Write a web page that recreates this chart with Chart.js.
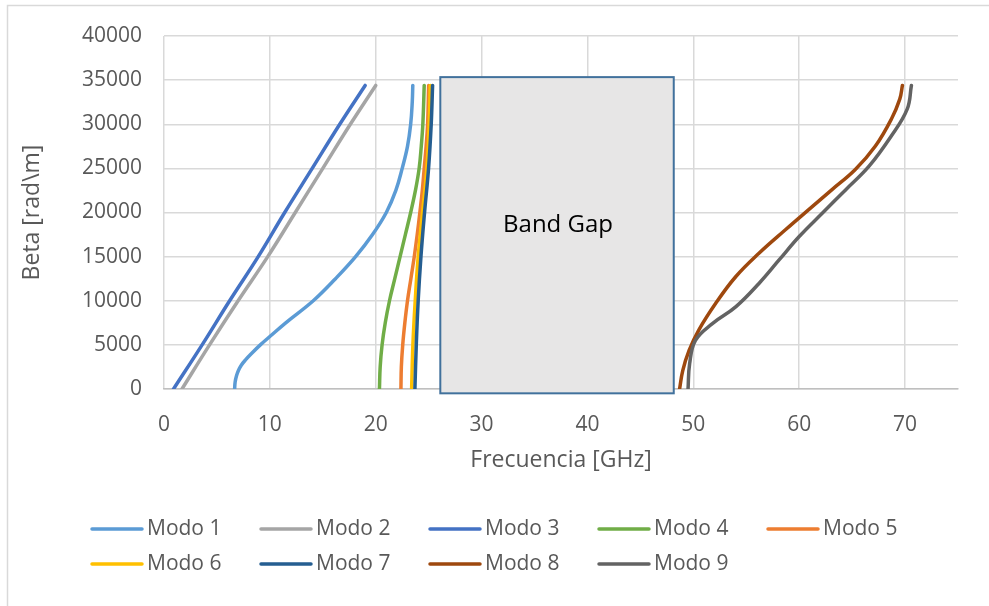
<!DOCTYPE html>
<html>
<head>
<meta charset="utf-8">
<script src="https://cdn.jsdelivr.net/npm/chart.js@4.4.1/dist/chart.umd.min.js"></script>
<style>
  html, body { margin: 0; padding: 0; background: #ffffff; }
  #wrap { position: relative; width: 989px; height: 606px; }
  canvas { display: block; }
</style>
</head>
<body>
<div id="wrap"><canvas id="c" width="989" height="606"></canvas></div>
<script>
// ---- Data (frequency in GHz, beta in rad/m) ----
const seriesNames = ['Modo 1','Modo 2','Modo 3','Modo 4','Modo 5','Modo 6','Modo 7','Modo 8','Modo 9'];
const seriesColors = ['#5B9BD5','#A5A5A5','#4472C4','#70AD47','#ED7D31','#FFC000','#255E91','#9E480E','#636363'];

const modo1F = [6.67, 6.72, 6.85, 7.03, 7.30, 7.70, 8.25, 9.10, 10.05, 11.5, 14.1, 16.2, 18.1, 19.7, 21.0, 21.9, 22.5, 23.0, 23.3, 23.45, 23.5];
const modo1B = [0, 800, 1500, 2100, 2700, 3300, 4000, 5000, 6000, 7500, 10000, 12500, 15000, 17500, 20000, 22500, 25000, 27500, 30000, 32500, 34400];

const modo2F = [1.7, 4.3, 7.0, 9.8, 12.4, 15.0, 17.6, 20.0];
const modo2B = [0, 5000, 10000, 15000, 20000, 25000, 30000, 34400];

const modo3F = [0.9, 3.6, 6.2, 8.9, 11.4, 14.0, 16.6, 19.0];
const modo3B = [0, 5000, 10000, 15000, 20000, 25000, 30000, 34400];

const modo4F = [20.35, 20.42, 20.6, 20.9, 21.3, 21.8, 22.3, 22.8, 23.3, 23.75, 24.1, 24.3, 24.45, 24.58];
const modo4B = [0, 2500, 5000, 7500, 10000, 12500, 15000, 17500, 20000, 22500, 25000, 27500, 30000, 34400];

const modo5F = [22.38, 22.42, 22.55, 22.75, 23.0, 23.32, 23.64, 23.92, 24.17, 24.4, 24.58, 24.76, 24.9, 25.0];
const modo5B = [0, 2500, 5000, 7500, 10000, 12500, 15000, 17500, 20000, 22500, 25000, 27500, 30000, 34400];

const modo6F = [23.39, 23.51, 23.73, 24.01, 24.42, 24.83, 25.05, 25.15];
const modo6B = [0, 5000, 10000, 15000, 20000, 25000, 30000, 34400];

const modo7F = [23.70, 23.83, 24.01, 24.27, 24.61, 24.99, 25.24, 25.37];
const modo7B = [0, 5000, 10000, 15000, 20000, 25000, 30000, 34400];

const modo8F = [48.7, 49.0, 49.6, 50.5, 52.1, 54.0, 56.2, 58.7, 60.9, 63.1, 65.3, 67.2, 68.7, 69.5, 69.75];
const modo8B = [0, 2090, 4370, 6650, 9680, 12720, 15380, 18040, 20320, 22590, 24870, 27530, 30570, 32850, 34400];

const modo9F = [49.5, 49.65, 50.2, 51.8, 54.0, 56.2, 58.1, 60.0, 62.2, 64.4, 66.6, 68.7, 70.2, 70.6];
const modo9B = [0, 2850, 5510, 7410, 9300, 11960, 14620, 17280, 19940, 22590, 25250, 28670, 31710, 34400];

const xTicks = [0, 10, 20, 30, 40, 50, 60, 70];
const yTicks = [0, 5000, 10000, 15000, 20000, 25000, 30000, 35000, 40000];

// Band gap region (GHz, rad/m)
const bandGapF = [26.1, 48.15];
const bandGapB = [-490, 35340];
const bandGapLabel = 'Band Gap';

const xTitle = 'Frecuencia [GHz]';
const yTitle = 'Beta [rad\\m]';

// ---- Build datasets ----
const freqs = [modo1F, modo2F, modo3F, modo4F, modo5F, modo6F, modo7F, modo8F, modo9F];
const betas = [modo1B, modo2B, modo3B, modo4B, modo5B, modo6B, modo7B, modo8B, modo9B];

const datasets = seriesNames.map((name, i) => ({
  label: name,
  data: freqs[i].map((f, k) => ({ x: f, y: betas[i][k] })),
  borderColor: seriesColors[i],
  backgroundColor: seriesColors[i],
  borderWidth: 3.5,
  borderCapStyle: 'round',
  borderJoinStyle: 'round',
  showLine: true,
  pointRadius: 0,
  pointHoverRadius: 0,
  tension: 0.4,
  fill: false,
  order: seriesNames.length - i
}));

const FONT = "'Open Sans', 'DejaVu Sans', sans-serif";
const TEXT = '#595959';

const framePlugin = {
  id: 'frame',
  beforeDraw(chart) {
    const ctx = chart.ctx;
    ctx.save();
    ctx.fillStyle = '#ffffff';
    ctx.fillRect(0, 0, chart.width, chart.height);
    ctx.strokeStyle = '#D9D9D9';
    ctx.lineWidth = 1.5;
    ctx.beginPath();
    ctx.moveTo(7.5, chart.height);
    ctx.lineTo(7.5, 5.5);
    ctx.lineTo(chart.width, 5.5);
    ctx.stroke();
    ctx.restore();
  }
};

const bandGapPlugin = {
  id: 'bandGap',
  afterDraw(chart) {
    const xs = chart.scales.x, ys = chart.scales.y;
    const x1 = xs.getPixelForValue(bandGapF[0]);
    const x2 = xs.getPixelForValue(bandGapF[1]);
    const y1 = ys.getPixelForValue(bandGapB[1]);
    const y2 = ys.getPixelForValue(bandGapB[0]);
    const ctx = chart.ctx;
    ctx.save();
    ctx.fillStyle = '#E7E6E6';
    ctx.fillRect(x1, y1, x2 - x1, y2 - y1);
    ctx.strokeStyle = '#41719C';
    ctx.lineWidth = 2;
    ctx.strokeRect(x1, y1, x2 - x1, y2 - y1);
    ctx.fillStyle = '#000000';
    ctx.font = '24px ' + FONT;
    ctx.textAlign = 'center';
    ctx.textBaseline = 'middle';
    ctx.fillText(bandGapLabel, (x1 + x2) / 2 + 1, (y1 + y2) / 2 - 10);
    ctx.restore();
  }
};

const legendPlugin = {
  id: 'customLegend',
  afterDraw(chart) {
    const ctx = chart.ctx;
    const perRow = 5, startX = 90, colW = 169, rowY0 = 529, rowH = 35, lineLen = 54;
    ctx.save();
    ctx.font = '21px ' + FONT;
    ctx.textBaseline = 'middle';
    ctx.textAlign = 'left';
    chart.data.datasets.forEach((ds, i) => {
      const col = i % perRow, row = Math.floor(i / perRow);
      const x = startX + col * colW;
      const y = rowY0 + row * rowH;
      ctx.strokeStyle = ds.borderColor;
      ctx.lineWidth = 3.5;
      ctx.lineCap = 'round';
      ctx.beginPath();
      ctx.moveTo(x + 2, y);
      ctx.lineTo(x + lineLen - 2, y);
      ctx.stroke();
      ctx.fillStyle = TEXT;
      ctx.fillText(ds.label, x + lineLen + 3, y);
    });
    ctx.restore();
  }
};

new Chart(document.getElementById('c'), {
  type: 'scatter',
  data: { datasets },
  plugins: [framePlugin, bandGapPlugin, legendPlugin],
  options: {
    responsive: false,
    animation: false,
    devicePixelRatio: 1,
    layout: { padding: { left: 8, top: 36, right: 31, bottom: 127 } },
    plugins: {
      legend: { display: false },
      tooltip: { enabled: false }
    },
    scales: {
      x: {
        type: 'linear',
        min: 0,
        max: 75,
        afterBuildTicks: (s) => { s.ticks = xTicks.map(v => ({ value: v })); },
        afterFit: (s) => { s.height = 90; },
        ticks: {
          includeBounds: false,
          stepSize: 10,
          color: TEXT,
          font: { family: FONT, size: 21 },
          padding: 23,
          maxRotation: 0,
          callback: (v) => String(v)
        },
        grid: { color: '#D9D9D9', lineWidth: 1.5, drawTicks: false },
        border: { display: true, color: '#BFBFBF', width: 1.5 },
        title: {
          display: true,
          text: xTitle,
          color: TEXT,
          font: { family: FONT, size: 23 },
          padding: { top: 4, bottom: 5 }
        }
      },
      y: {
        type: 'linear',
        min: 0,
        max: 40000,
        afterBuildTicks: (s) => { s.ticks = yTicks.map(v => ({ value: v })); },
        afterFit: (s) => { s.width = 156; },
        ticks: {
          stepSize: 5000,
          color: TEXT,
          font: { family: FONT, size: 21 },
          padding: 22,
          callback: (v) => String(v)
        },
        grid: { color: '#D9D9D9', lineWidth: 1.5, drawTicks: false },
        border: { display: false },
        title: {
          display: true,
          text: yTitle,
          color: TEXT,
          font: { family: FONT, size: 23 },
          padding: { top: 11, bottom: 4 }
        }
      }
    }
  }
});
</script>
</body>
</html>
